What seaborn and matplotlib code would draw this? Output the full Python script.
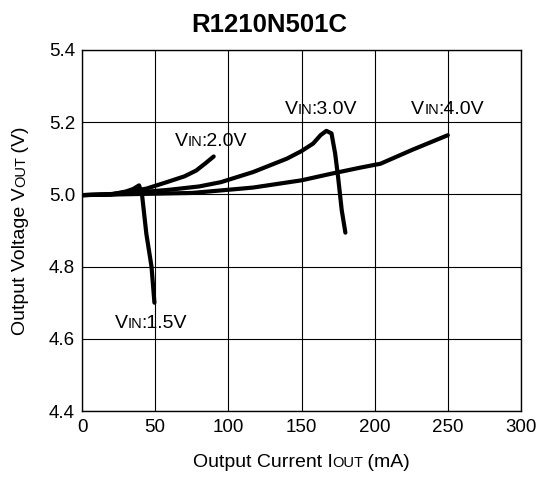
import matplotlib
matplotlib.use("Agg")
import matplotlib.pyplot as plt
import numpy as np
import pandas as pd
import seaborn as sns
from matplotlib.transforms import IdentityTransform

# 読み取ったデータ (I_OUT mA, V_OUT V)
i_15 = [0, 10, 20, 30, 35, 39, 41, 44, 47.5, 49.5]
v_15 = [4.998, 4.999, 5.0, 5.008, 5.015, 5.025, 5.0, 4.89, 4.80, 4.70]

i_20 = [0, 10, 20, 30, 44, 58, 70, 78, 84, 90]
v_20 = [4.998, 4.999, 5.001, 5.006, 5.016, 5.034, 5.05, 5.066, 5.085, 5.105]

i_30 = [0, 20, 40, 60, 80, 95, 117, 140, 150, 158, 163, 167, 170.5, 173, 175, 177.5, 180]
v_30 = [4.998, 5.0, 5.006, 5.013, 5.022, 5.034, 5.062, 5.099, 5.12, 5.141, 5.164,
        5.176, 5.169, 5.113, 5.048, 4.956, 4.894]

i_40 = [0, 25, 50, 75, 95, 117, 150, 170, 190, 204, 226, 250]
v_40 = [4.998, 5.0, 5.002, 5.004, 5.011, 5.019, 5.039, 5.057, 5.074, 5.085, 5.124, 5.164]

vin_names = ["1.5V", "2.0V", "3.0V", "4.0V"]
# ラベル位置 (左端, ベースライン)
label_x = [22.6, 63.6, 138.7, 225]
label_y = [4.631, 5.134, 5.224, 5.224]

x_ticks = [0, 50, 100, 150, 200, 250, 300]
y_ticks = [4.4, 4.6, 4.8, 5.0, 5.2, 5.4]

series = [(i_15, v_15), (i_20, v_20), (i_30, v_30), (i_40, v_40)]

sns.set_style("white")
plt.rcParams["font.family"] = ["Liberation Sans", "DejaVu Sans"]
plt.rcParams["text.color"] = "black"

W, H = 538, 478
fig = plt.figure(figsize=(W / 100, H / 100), dpi=100)
ax = fig.add_axes([82 / W, 1 - 411 / H, (521 - 82) / W, (411 - 50) / H])

for (xs, ys), name in zip(series, vin_names):
    df = pd.DataFrame({"iout": xs, "vout": ys})
    sns.lineplot(data=df, x="iout", y="vout", color="black", lw=3,
                 sort=False, estimator=None, ax=ax)

ax.set_xlim(0, 300)
ax.set_ylim(4.4, 5.4)
ax.set_xticks(x_ticks)
ax.set_yticks(y_ticks)
ax.set_yticklabels([f"{v:.1f}" for v in y_ticks])
ax.tick_params(length=0, labelsize=13.5, colors="black")
ax.tick_params(axis="y", pad=5)
ax.tick_params(axis="x", pad=6)
ax.grid(True, color="black", lw=0.8)
for s in ax.spines.values():
    s.set_color("black")
    s.set_linewidth(1.0)
ax.set_xlabel("")
ax.set_ylabel("")

SC = 0.75  # small caps scale
labels = []  # (pieces, anchor px, rotation, centered)


def sc_text(parts, size, rotation=0):
    out = []
    for txt, small in parts:
        t = fig.text(0, 0, txt, fontsize=size * (SC if small else 1),
                     ha="left", va="baseline", rotation=rotation,
                     rotation_mode="anchor", transform=IdentityTransform())
        out.append((t, small))
    return out


for name, lx, ly in zip(vin_names, label_x, label_y):
    p = sc_text([("V", False), ("IN", True), (":" + name, False)], 14)
    px, py = ax.transData.transform((lx, ly))
    labels.append((p, (px, py), 0, False))

p = sc_text([("Output Current I", False), ("OUT", True), (" (mA)", False)], 14)
labels.append((p, ((82 + 521) / 2, H - 467), 0, True))
p = sc_text([("Output Voltage V", False), ("OUT", True), (" (V)", False)], 14, 90)
labels.append((p, (25, H - (50 + 411) / 2), 90, True))

fig.text(0.5, 1 - 31.7 / H, "R1210N501C", ha="center", va="baseline",
         fontsize=18.5, fontweight="bold")

# 幅を測って並べる
fig.canvas.draw()
r = fig.canvas.get_renderer()
for pieces, (px, py), rot, centered in labels:
    ext = [t.get_window_extent(r) for t, _ in pieces]
    sizes = [(e.width if rot == 0 else e.height) - (1.2 if sm else 0)
             for e, (_, sm) in zip(ext, pieces)]
    total = sum(sizes)
    pos = -total / 2 if centered else 0
    for (t, _), s in zip(pieces, sizes):
        if rot == 0:
            t.set_position((px + pos, py))
        else:
            t.set_position((px, py + pos))
        pos += s

fig.savefig("out.png", dpi=100)
